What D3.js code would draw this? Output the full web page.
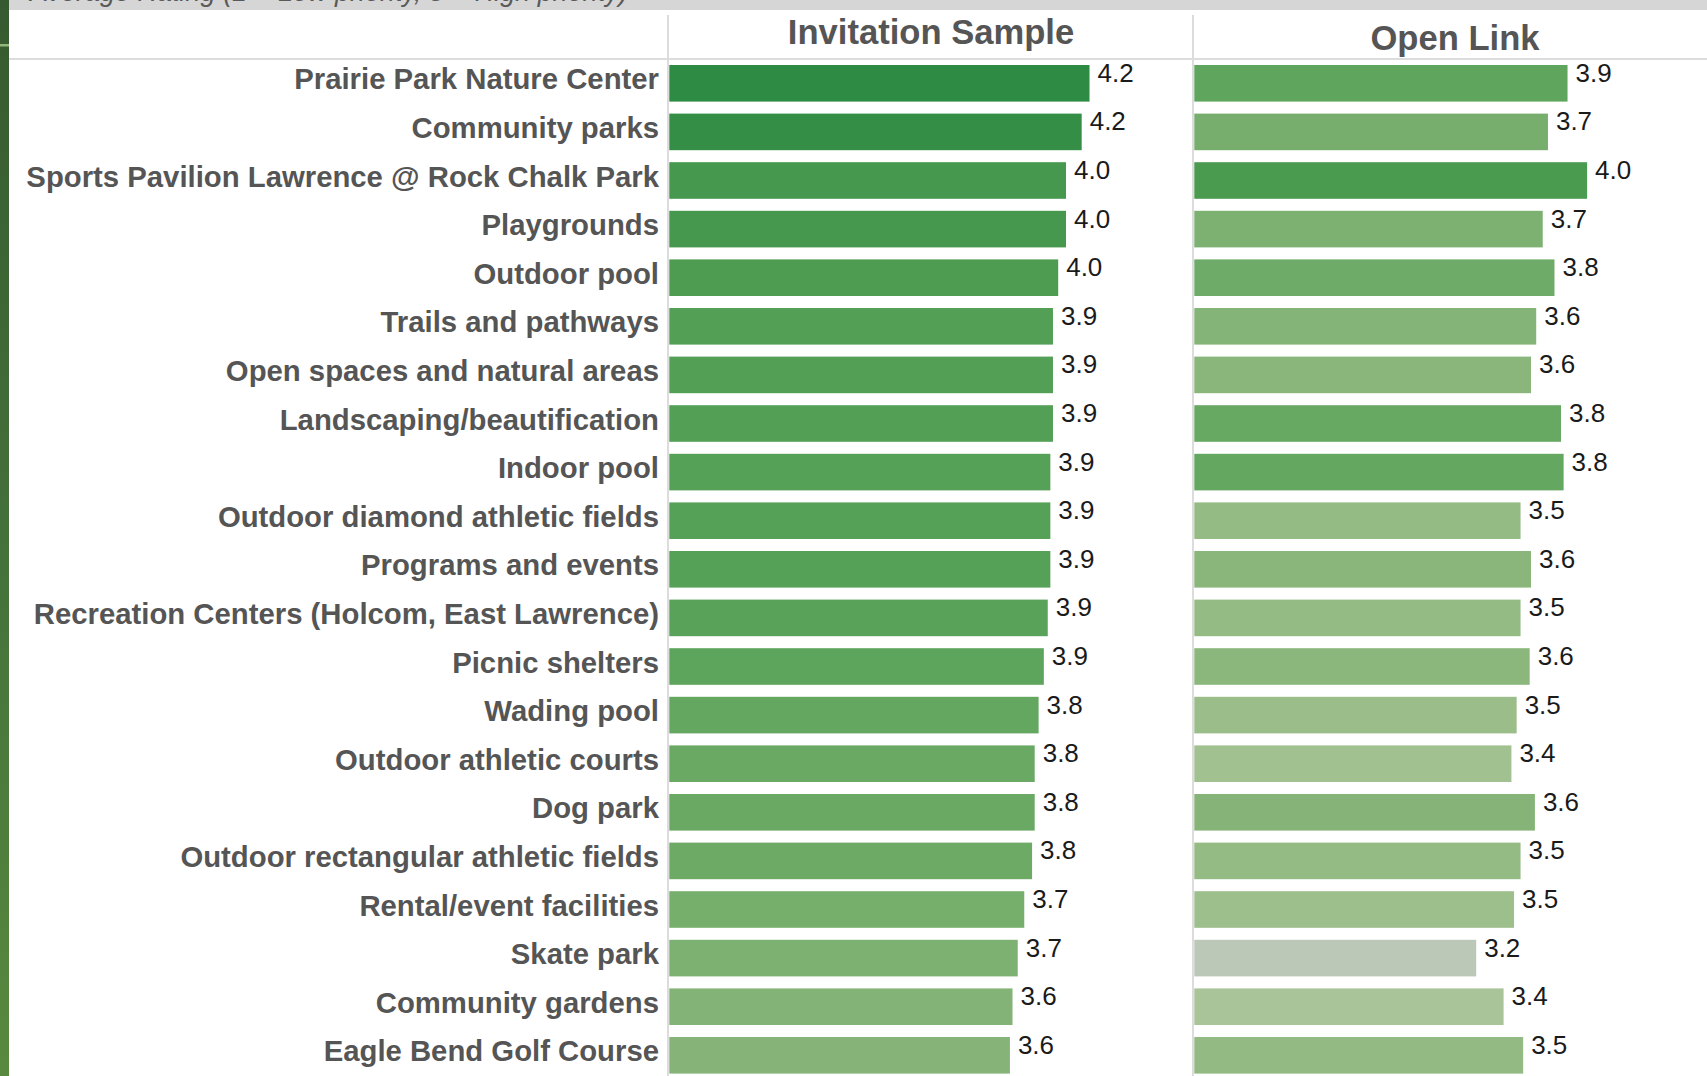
<!DOCTYPE html>
<html><head><meta charset="utf-8">
<script src="https://cdn.jsdelivr.net/npm/d3@7/dist/d3.min.js"></script>
<style>html,body{margin:0;padding:0;background:#fff;overflow:hidden}</style>
</head><body><svg id="chart" width="1707" height="1076"></svg>
<script>
const categories = [
  "Prairie Park Nature Center",
  "Community parks",
  "Sports Pavilion Lawrence @ Rock Chalk Park",
  "Playgrounds",
  "Outdoor pool",
  "Trails and pathways",
  "Open spaces and natural areas",
  "Landscaping/beautification",
  "Indoor pool",
  "Outdoor diamond athletic fields",
  "Programs and events",
  "Recreation Centers (Holcom, East Lawrence)",
  "Picnic shelters",
  "Wading pool",
  "Outdoor athletic courts",
  "Dog park",
  "Outdoor rectangular athletic fields",
  "Rental/event facilities",
  "Skate park",
  "Community gardens",
  "Eagle Bend Golf Course"
];
const invitationValues = [4.22, 4.16, 4.04, 4.04, 3.98, 3.94, 3.94, 3.94, 3.92, 3.92, 3.92, 3.90, 3.87, 3.83, 3.80, 3.80, 3.78, 3.72, 3.67, 3.63, 3.61];
const openLinkValues   = [3.86, 3.71, 4.01, 3.67, 3.76, 3.62, 3.58, 3.81, 3.83, 3.50, 3.58, 3.50, 3.57, 3.47, 3.43, 3.61, 3.50, 3.45, 3.16, 3.37, 3.52];
const panelTitles = ["Invitation Sample", "Open Link"];
const bannerText = "Average Rating (1 = Low priority, 5 = High priority)";
const colorStops = [3.15, 3.4, 3.5, 3.7, 3.9, 4.0, 4.2];
const colorValues = ["#bdc8b8", "#a6c395", "#95bb84", "#79af6e", "#58a25a", "#4b9b50", "#2e8b43"];

const W = 1707, H = 1076;
const svg = d3.select("#chart");
const font = "'Liberation Sans', Arial, Helvetica, sans-serif";

const defs = svg.append("defs");
const grad = defs.append("linearGradient").attr("id", "strip").attr("x1", 0).attr("y1", 0).attr("x2", 0).attr("y2", 1);
grad.append("stop").attr("offset", "0%").attr("stop-color", "#365a2f");
grad.append("stop").attr("offset", "50%").attr("stop-color", "#44703a");
grad.append("stop").attr("offset", "100%").attr("stop-color", "#58893e");

// top gray band with clipped title (only its lower edge shows, as in the source)
svg.append("rect").attr("x", 0).attr("y", 0).attr("width", W).attr("height", 10).attr("fill", "#d6d6d6");
defs.append("clipPath").attr("id", "bandClip").append("rect").attr("x", 0).attr("y", 0).attr("width", W).attr("height", 10);
svg.append("text").attr("clip-path", "url(#bandClip)")
  .attr("x", 30).attr("y", 0.5)
  .attr("font-family", font).attr("font-style", "italic").attr("font-size", 27)
  .attr("fill", "#5a5a5a").text(bannerText);

svg.append("rect").attr("x", 0).attr("y", 0).attr("width", 9).attr("height", H).attr("fill", "url(#strip)");
svg.append("rect").attr("x", 0).attr("y", 44).attr("width", 9).attr("height", 2.5).attr("fill", "#93b57c");

const y = d3.scaleBand().domain(categories).range([59, 59 + 21 * 48.6]).paddingInner(0.247).paddingOuter(0.1235);
const x = d3.scaleLinear().domain([1, 5]).range([0, 522]);
const color = d3.scaleLinear().domain(colorStops).range(colorValues).interpolate(d3.interpolateRgb).clamp(true);

svg.append("line").attr("x1", 9).attr("x2", W).attr("y1", 59).attr("y2", 59).attr("stroke", "#dcdcdc").attr("stroke-width", 2);

const panels = [
  { title: panelTitles[0], values: invitationValues, x0: 668, cx: 931, ty: 43.5 },
  { title: panelTitles[1], values: openLinkValues, x0: 1193, cx: 1455, ty: 50 }
];

panels.forEach(p => {
  svg.append("line").attr("x1", p.x0).attr("x2", p.x0).attr("y1", 15).attr("y2", H).attr("stroke", "#dcdcdc").attr("stroke-width", 2);
  svg.append("text").attr("x", p.cx).attr("y", p.ty).attr("text-anchor", "middle")
    .attr("font-family", font).attr("font-weight", "bold").attr("font-size", 34.6).attr("fill", "#555")
    .text(p.title);
  const g = svg.append("g").attr("transform", `translate(${p.x0 + 1.3},0)`);
  const rows = categories.map((c, i) => ({ c, v: p.values[i] }));
  g.selectAll("rect").data(rows).join("rect")
    .attr("x", x(1)).attr("y", d => y(d.c))
    .attr("width", d => x(d.v) - x(1)).attr("height", y.bandwidth())
    .attr("fill", d => color(d.v));
  g.selectAll("text").data(rows).join("text")
    .attr("x", d => x(d.v) + 8).attr("y", d => y(d.c) + y.bandwidth() / 2 - 1.5)
    .attr("font-family", font).attr("font-size", 26).attr("fill", "#1a1a1a")
    .text(d => d3.format(".1f")(d.v));
});

svg.append("g").selectAll("text").data(categories).join("text")
  .attr("x", 659).attr("y", d => y(d) + y.bandwidth() / 2 + 6)
  .attr("text-anchor", "end")
  .attr("font-family", font).attr("font-weight", "bold").attr("font-size", 29.3).attr("fill", "#555")
  .text(d => d);
</script>
</body></html>
